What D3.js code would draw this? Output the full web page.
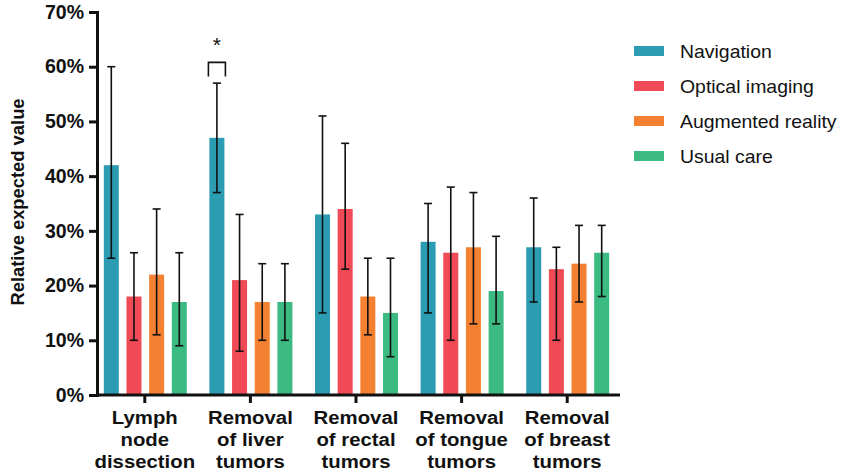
<!DOCTYPE html>
<html>
<head>
<meta charset="utf-8">
<script src="https://cdn.jsdelivr.net/npm/d3@7"></script>
<style>
body { margin: 0; background: #fff; }
svg { font-family: "Liberation Sans", Arial, sans-serif; }
</style>
</head>
<body>
<div id="chart"></div>
<script>
// 数据
const categories = [
	['Lymph', 'node', 'dissection'],
	['Removal', 'of liver', 'tumors'],
	['Removal', 'of rectal', 'tumors'],
	['Removal', 'of tongue', 'tumors'],
	['Removal', 'of breast', 'tumors'],
];
const seriesNames = ['Navigation', 'Optical imaging', 'Augmented reality', 'Usual care'];
const seriesColors = ['#2b9cb1', '#ef4a55', '#f48131', '#3bba82'];
const navigation = [42, 47, 33, 28, 27];
const navigationLow = [25, 37, 15, 15, 17];
const navigationHigh = [60, 57, 51, 35, 36];
const optical = [18, 21, 34, 26, 23];
const opticalLow = [10, 8, 23, 10, 10];
const opticalHigh = [26, 33, 46, 38, 27];
const augmented = [22, 17, 18, 27, 24];
const augmentedLow = [11, 10, 11, 13, 17];
const augmentedHigh = [34, 24, 25, 37, 31];
const usualCare = [17, 17, 15, 19, 26];
const usualCareLow = [9, 10, 7, 13, 18];
const usualCareHigh = [26, 24, 25, 29, 31];
const yTicks = [0, 10, 20, 30, 40, 50, 60, 70];

const series = [
	[navigation, navigationLow, navigationHigh],
	[optical, opticalLow, opticalHigh],
	[augmented, augmentedLow, augmentedHigh],
	[usualCare, usualCareLow, usualCareHigh],
];

const width = 845, height = 473;
const svg = d3.select('#chart').append('svg')
	.attr('width', width)
	.attr('height', height);

const x = d3.scaleBand().domain(d3.range(categories.length)).range([92, 620]);
//	组内偏移，相对组中心
const xs = d3.scaleBand().domain(d3.range(seriesNames.length)).range([-41, 42]).paddingInner(0.338);
const y = d3.scaleLinear().domain([0, 70]).range([395, 12]);

// 柱子
const bars = [];
series.forEach((s, si) => {
	s[0].forEach((v, ci) => {
		bars.push({ si, ci, v, lo: s[1][ci], hi: s[2][ci] });
	});
});
const bx = d => x(d.ci) + x.bandwidth() / 2 + xs(d.si);

svg.append('g').selectAll('rect')
	.data(bars)
	.enter()
	.append('rect')
	.attr('x', d => bx(d))
	.attr('y', d => y(d.v))
	.attr('width', xs.bandwidth())
	.attr('height', d => y(0) - y(d.v))
	.attr('fill', d => seriesColors[d.si]);

// 误差线
const err = svg.append('g').attr('stroke', '#111').attr('stroke-width', 1.6);
bars.forEach(d => {
	const cx = bx(d) + xs.bandwidth() / 2;
	err.append('line').attr('x1', cx).attr('x2', cx).attr('y1', y(d.hi)).attr('y2', y(d.lo));
	err.append('line').attr('x1', cx - 4).attr('x2', cx + 4).attr('y1', y(d.hi)).attr('y2', y(d.hi));
	err.append('line').attr('x1', cx - 4).attr('x2', cx + 4).attr('y1', y(d.lo)).attr('y2', y(d.lo));
});

// 显著性标记
const sigX = bx({ ci: 1, si: 0 }) + xs.bandwidth() / 2;
svg.append('path')
	.attr('d', 'M' + (sigX - 8.5) + ',' + y(58.2) + 'V' + y(60.8) + 'H' + (sigX + 8.5) + 'V' + y(58.2))
	.attr('fill', 'none')
	.attr('stroke', '#111')
	.attr('stroke-width', 1.6);
svg.append('text')
	.attr('x', sigX)
	.attr('y', 52)
	.attr('text-anchor', 'middle')
	.style('font-size', '21px')
	.attr('fill', '#111')
	.text('*');

// Y轴
const yAxis = svg.append('g')
	.attr('transform', 'translate(97,0)')
	.call(d3.axisLeft(y).tickValues(yTicks).tickSize(8).tickPadding(5).tickFormat(d => d + '%'));
yAxis.select('.domain').attr('stroke', '#111').attr('stroke-width', 3);
yAxis.selectAll('.tick line').attr('stroke', '#111').attr('stroke-width', 3);
yAxis.selectAll('.tick text')
	.attr('fill', '#111')
	.style('font-size', '19.5px')
	.style('font-weight', 'bold')
	.style('font-family', '"Liberation Sans", Arial, sans-serif');

// X轴
const xAxis = svg.append('g')
	.attr('transform', 'translate(0,395)')
	.call(d3.axisBottom(x).tickSize(8).tickFormat(''));
xAxis.select('.domain').attr('d', 'M96,0H620').attr('stroke', '#111').attr('stroke-width', 3);
xAxis.selectAll('.tick line').attr('stroke', '#111').attr('stroke-width', 3);

//	类别标签，横向拉宽一点
svg.append('g').selectAll('g')
	.data(categories)
	.enter()
	.append('g')
	.attr('transform', (d, i) => 'translate(' + (x(i) + x.bandwidth() / 2) + ',424) scale(1.1,1)')
	.append('text')
	.attr('text-anchor', 'middle')
	.style('font-size', '18.5px')
	.style('font-weight', 'bold')
	.attr('fill', '#111')
	.selectAll('tspan')
	.data(d => d)
	.enter()
	.append('tspan')
	.attr('x', 0)
	.attr('dy', (d, i) => i ? 22 : 0)
	.text(d => d);

// Y轴标题
svg.append('text')
	.attr('transform', 'translate(24,202) rotate(-90) scale(1.02,1)')
	.attr('text-anchor', 'middle')
	.style('font-size', '18px')
	.style('font-weight', 'bold')
	.attr('fill', '#111')
	.text('Relative expected value');

// 图例
const legend = svg.append('g').selectAll('g')
	.data(seriesNames)
	.enter()
	.append('g')
	.attr('transform', (d, i) => 'translate(634,' + (51 + i * 35) + ')');
legend.append('rect')
	.attr('x', 0).attr('y', -5)
	.attr('width', 30).attr('height', 10)
	.attr('fill', (d, i) => seriesColors[i]);
legend.append('text')
	.attr('transform', 'translate(46,7) scale(1.08,1)')
	.style('font-size', '18px')
	.attr('fill', '#111')
	.text(d => d);
</script>
</body>
</html>
